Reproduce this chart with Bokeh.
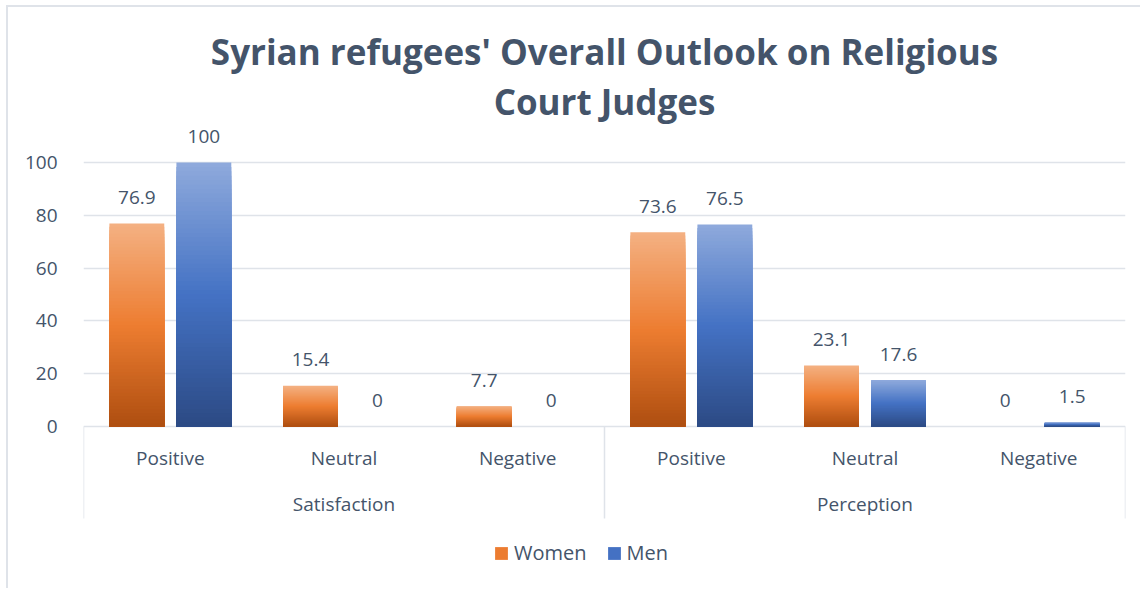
from bokeh.plotting import figure
from bokeh.models import (FactorRange, ColumnDataSource, FixedTicker, Legend, LegendItem, Title)
from bokeh.transform import dodge
from bokeh.embed import file_html
from bokeh.resources import INLINE
from bokeh.core.properties import value

# ---- data ----
groups = ["Satisfaction", "Perception"]
categories = ["Positive", "Neutral", "Negative"]
women = [76.9, 15.4, 7.7, 73.6, 23.1, 0]
men = [100, 0, 0, 76.5, 17.6, 1.5]
y_ticks = [0, 20, 40, 60, 80, 100]
title_line1 = "Syrian refugees' Overall Outlook on Religious"
title_line2 = "Court Judges"

FONT = "Open Sans"
TXT = "#44546a"
GRID = "#dfe3e9"
factors = [(g, c) for g in groups for c in categories]

# gradient stops (bottom, middle, top)
ORANGE = ["#ae4e10", "#ed7d31", "#f4b183"]
BLUE = ["#2c4a84", "#4472c4", "#8faadc"]
N = 60

# layout (pixels)
FRAME_TOP, ZERO_Y, FRAME_BOTTOM = 125, 426, 590
PX_PER_UNIT = 2.64
Y_END = (ZERO_Y - FRAME_TOP) / PX_PER_UNIT
Y_START = -(FRAME_BOTTOM - ZERO_Y) / PX_PER_UNIT
AXIS_DEPTH = -92 / PX_PER_UNIT  # category-axis box depth below zero


def hex2rgb(h):
    h = h.lstrip("#")
    return tuple(int(h[i:i + 2], 16) for i in (0, 2, 4))


def grad(stops, t):
    a, b, c = [hex2rgb(s) for s in stops]
    if t < 0.5:
        u = t / 0.5
        p, q = a, b
    else:
        u = (t - 0.5) / 0.5
        p, q = b, c
    r = [round(p[i] + (q[i] - p[i]) * u) for i in range(3)]
    return "#%02x%02x%02x" % tuple(r)


def segments(vals, stops):
    # overlapping slices, tallest first, so each bar shades from light (top) to dark (bottom)
    xs, bots, tops, cols = [], [], [], []
    for f, v in zip(factors, vals):
        for i in range(N - 1, -1, -1):
            xs.append(f)
            bots.append(0)
            tops.append(v * (i + 1) / N)
            cols.append(grad(stops, (i + 0.5) / N))
    return ColumnDataSource(dict(x=xs, bottom=bots, top=tops, color=cols))


xr = FactorRange(*factors, factor_padding=0, group_padding=0, range_padding=0)
p = figure(x_range=xr, y_range=(Y_START, Y_END), width=1134, height=583,
           output_backend="svg", toolbar_location=None,
           min_border_left=75, min_border_right=17, min_border_top=118, min_border_bottom=0)
p.margin = (5, 0, 0, 6)
p.styles = {"border-top": "2px solid #dfe3e9", "border-left": "2px solid #dfe3e9"}
p.outline_line_color = None
p.background_fill_color = "white"
p.xaxis.visible = False

OFF = 0.193
W = 0.316
src_w = segments(women, ORANGE)
src_m = segments(men, BLUE)
rw = p.vbar(x=dodge("x", -OFF, range=xr), bottom="bottom", top="top", width=W,
            source=src_w, fill_color="color", line_color=None)
rm = p.vbar(x=dodge("x", OFF, range=xr), bottom="bottom", top="top", width=W,
            source=src_m, fill_color="color", line_color=None)

# data labels
lab = ColumnDataSource(dict(x=factors, w=women, m=men,
                            wl=[f"{v:g}" for v in women], ml=[f"{v:g}" for v in men]))
for col, lcol, off in (("w", "wl", -OFF), ("m", "ml", OFF)):
    p.text(x=dodge("x", off, range=xr), y=col, text=lcol, source=lab,
           text_align="center", text_baseline="middle", y_offset=-26,
           text_font=value(FONT), text_font_size="19px", text_color=TXT)

# category axis (two levels) drawn as a table below zero
cat_src = ColumnDataSource(dict(x=factors, y=[0] * len(factors), t=[c for _, c in factors]))
p.text(x="x", y="y", text="t", source=cat_src, text_align="center", text_baseline="middle",
       y_offset=31, text_font=value(FONT), text_font_size="19px", text_color=TXT)
grp_src = ColumnDataSource(dict(x=groups, y=[0] * len(groups), t=groups))
p.text(x="x", y="y", text="t", source=grp_src, text_align="center", text_baseline="middle",
       y_offset=77, text_font=value(FONT), text_font_size="19px", text_color=TXT)
n_sep = len(groups) + 1
sep_x = [k * len(categories) for k in range(n_sep)]
p.segment(x0=sep_x, x1=sep_x, y0=[0] * n_sep, y1=[AXIS_DEPTH] * n_sep,
          line_color=GRID, line_width=1.5)

# y axis
p.yaxis.ticker = FixedTicker(ticks=y_ticks)
p.yaxis.axis_line_color = None
p.yaxis.major_tick_line_color = None
p.yaxis.minor_tick_line_color = None
p.yaxis.major_label_text_font = FONT
p.yaxis.major_label_text_font_size = "19px"
p.yaxis.major_label_text_color = TXT
p.yaxis.major_label_standoff = 20

p.ygrid.ticker = FixedTicker(ticks=y_ticks)
p.ygrid.grid_line_color = GRID
p.ygrid.grid_line_width = 1.5
p.xgrid.grid_line_color = None

p.title = Title(text=title_line1, align="center", text_font=FONT, text_font_size="35px",
                text_font_style="bold", text_color=TXT, standoff=0)
p.add_layout(Title(text=title_line2, align="center", text_font=FONT, text_font_size="35px",
                   text_font_style="bold", text_color=TXT, standoff=2), "above")

legend = Legend(items=[LegendItem(label="Women", renderers=[rw], index=N // 2),
                       LegendItem(label="Men", renderers=[rm], index=N // 2)],
                orientation="horizontal", location=(410, 24),
                label_text_font=FONT, label_text_font_size="20px", label_text_color=TXT,
                glyph_width=16, glyph_height=16, label_standoff=5, spacing=19,
                padding=0, margin=0, border_line_color=None, background_fill_alpha=0)
p.add_layout(legend)

open("out.html", "w").write(file_html(p, INLINE))
